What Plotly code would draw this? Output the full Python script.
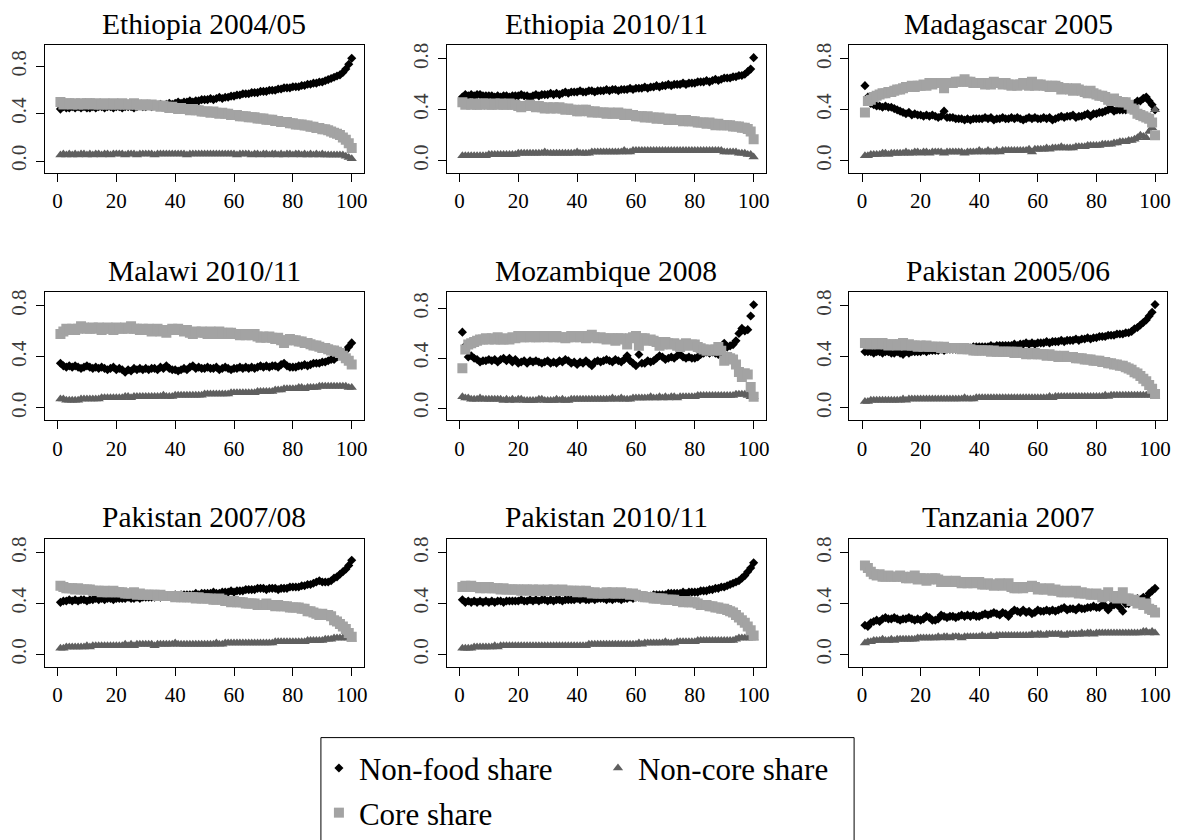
import plotly.graph_objects as go

# Expenditure percentile (x axis of every panel)
percentile = list(range(1, 101))

# Budget shares (in percent) by percentile, one list per survey and series
eth0405_nonfood = [44,46,45,45,46,45,46,45,46,45, 45,46,45,46,46,45,46,46,45,46,
                   46,45,46,46,46,45,46,47,46,46, 47,46,47,47,48,47,48,49,48,49,
                   50,49,50,50,51,50,51,51,52,52, 52,53,52,53,54,53,54,54,55,55,
                   56,56,57,57,57,58,58,58,59,59, 59,60,60,60,61,61,62,62,62,63,
                   63,63,64,64,65,65,66,66,67,67, 68,69,70,71,72,73,75,78,82,87]
eth0405_core = [50,48,49,49,48,49,48,49,48,49, 49,48,49,48,48,49,48,48,49,48,
                48,49,48,48,48,49,48,47,48,48, 47,48,47,47,46,47,46,45,46,45,
                44,45,44,44,43,44,43,43,42,42, 42,41,42,41,40,41,40,40,39,39,
                39,38,38,38,37,37,37,36,36,36, 35,35,35,34,34,33,33,33,32,32,
                31,31,31,30,30,29,29,28,28,27, 27,26,25,24,23,22,20,18,15,11]
eth0405_noncore = [5,6,5,6,5,6,5,6,6,5, 6,5,6,6,5,6,6,5,6,6,
                   6,6,5,6,6,6,5,6,6,6, 6,6,5,6,6,6,6,6,6,6,
                   6,6,6,5,6,6,6,6,6,6, 6,6,6,6,6,6,6,6,6,6,
                   5,6,6,6,6,5,6,6,5,6, 6,5,6,6,5,6,5,6,6,5,
                   6,6,5,6,5,6,5,6,5,6, 5,5,5,5,5,5,5,4,3,2]

eth1011_nonfood = [50,52,51,52,51,52,52,51,51,51, 51,50,51,50,51,51,50,51,51,51,
                   52,51,51,50,51,52,51,52,52,52, 53,52,53,52,53,54,53,54,54,54,
                   55,54,54,55,55,54,55,55,55,56, 55,56,56,55,56,56,56,57,56,57,
                   57,57,58,57,58,58,59,58,59,59, 60,59,60,60,60,61,60,61,61,61,
                   62,62,62,63,62,63,64,63,64,65, 65,65,66,66,67,67,68,70,72,81]
eth1011_core = [46,44,45,44,45,44,44,45,45,44, 44,45,44,45,44,44,45,44,44,43,
                42,43,43,44,43,42,43,42,41,42, 41,42,41,42,41,40,41,40,40,39,
                39,40,40,39,38,39,38,38,38,37, 38,37,37,38,37,36,37,36,36,35,
                35,35,34,35,34,34,33,34,33,33, 32,33,32,32,32,31,32,31,31,31,
                30,30,30,29,30,29,28,29,28,28, 28,28,27,27,27,26,26,25,23,17]
eth1011_noncore = [4,4,4,4,4,4,4,4,4,5, 5,5,5,5,5,5,5,5,5,6,
                   6,6,6,6,6,6,6,6,7,6, 6,6,6,6,6,6,6,6,6,7,
                   6,6,6,6,7,7,7,7,7,7, 7,7,7,7,7,8,7,7,8,8,
                   8,8,8,8,8,8,8,8,8,8, 8,8,8,8,8,8,8,8,8,8,
                   8,8,8,8,8,8,8,8,8,7, 7,7,7,7,6,6,6,5,5,3]

mdg2005_nonfood = [59,50,45,44,43,43,42,43,42,42, 41,40,39,38,37,38,36,37,36,36,
                   35,36,35,36,35,34,35,39,34,34, 34,33,33,33,32,33,32,33,33,33,
                   33,34,33,34,32,33,33,34,33,33, 34,33,34,33,32,33,34,33,34,33,
                   33,34,33,34,32,33,34,35,34,35, 35,36,34,35,35,36,37,35,37,37,
                   38,38,39,40,41,39,40,40,40,40, 41,44,45,47,47,49,50,47,44,40]
mdg2005_core = [38,47,48,50,51,52,53,53,54,54, 55,56,56,57,58,58,59,58,59,59,
                60,59,61,60,61,61,61,57,61,61, 61,62,62,62,64,62,62,61,61,61,
                61,60,61,60,62,61,61,60,61,60, 59,60,59,60,61,60,59,62,59,60,
                60,59,59,58,59,59,58,56,57,57, 56,55,57,56,55,54,53,55,53,52,
                51,51,50,48,47,49,47,46,46,46, 44,41,40,37,36,35,34,33,30,20]
mdg2005_noncore = [4,4,5,5,5,5,6,6,5,6, 6,6,6,6,7,6,6,7,7,6,
                   7,7,6,7,7,7,7,6,7,7, 7,7,7,7,6,7,7,7,7,8,
                   7,7,8,7,7,8,7,8,8,8, 8,8,8,8,8,8,9,7,9,9,
                   9,9,10,9,10,10,10,11,10,10, 10,10,11,11,11,11,12,12,12,12,
                   12,13,13,13,13,14,14,15,15,15, 16,16,17,18,20,19,18,23,26,40]

mwi1011_nonfood = [35,33,32,33,32,33,32,31,32,33, 32,31,32,31,32,31,30,31,32,30,
                   31,30,28,30,29,31,30,31,30,31, 30,31,31,30,32,31,33,31,30,30,
                   29,30,31,30,32,33,31,32,31,31, 32,31,31,32,30,31,32,31,30,31,
                   31,32,31,32,31,32,31,32,33,32, 33,32,33,33,32,34,35,33,32,32,
                   32,33,33,34,33,34,35,35,35,36, 36,37,38,38,40,41,43,45,48,51]
mwi1011_core = [58,60,62,61,62,61,62,64,63,62, 62,63,62,63,61,62,63,62,61,63,
                62,62,63,62,64,62,62,61,62,61, 62,60,61,62,60,61,59,61,62,61,
                62,61,60,61,59,58,60,59,60,59, 58,60,59,58,60,59,58,59,59,58,
                58,57,58,57,58,57,58,56,55,56, 55,56,55,54,55,53,51,53,54,53,
                53,52,52,51,51,50,49,49,48,47, 47,46,45,45,44,43,41,39,37,34]
mwi1011_noncore = [7,7,6,6,6,6,6,7,7,7, 7,7,7,7,8,8,8,8,8,8,
                   8,8,9,9,8,9,9,9,9,9, 9,9,9,9,9,10,9,9,9,10,
                   10,10,10,10,10,10,10,10,10,11, 11,11,11,11,11,11,11,11,12,12,
                   12,12,12,12,12,12,12,13,13,13, 13,13,13,14,14,14,15,15,15,15,
                   15,16,16,15,16,16,16,16,17,17, 17,17,17,17,17,17,17,17,16,16]

moz2008_nonfood = [61,50,41,42,40,39,37,38,38,39, 38,39,37,39,40,38,40,37,39,36,
                   37,38,36,38,37,38,37,36,37,38, 36,37,36,38,37,39,38,36,37,35,
                   37,36,38,36,34,37,38,37,38,39, 38,37,39,38,37,39,42,38,36,34,
                   43,36,36,38,37,38,40,42,41,39, 40,41,40,42,43,41,40,41,40,40,
                   41,43,44,45,44,45,44,43,45,52, 49,50,51,54,60,64,62,63,74,83]
moz2008_core = [32,47,51,52,53,54,55,55,56,55, 56,55,57,55,55,56,55,57,56,58,
                57,57,58,57,58,57,57,58,58,57, 58,57,58,57,57,56,57,58,57,58,
                57,58,56,57,59,57,56,57,56,55, 56,56,54,56,56,55,51,56,57,58,
                50,56,56,54,55,54,53,50,51,53, 52,51,52,50,49,51,52,50,51,51,
                49,48,47,46,47,46,47,49,46,38, 41,40,39,35,29,25,28,27,17,9]
moz2008_noncore = [9,8,8,7,7,7,8,7,7,7, 7,7,7,7,6,7,6,7,6,7,
                   7,6,6,6,6,6,7,7,6,6, 6,6,7,6,7,6,6,7,7,7,
                   7,7,7,7,7,7,7,7,7,7, 7,8,7,7,8,7,7,7,8,8,
                   8,8,8,8,9,8,8,9,8,9, 8,9,9,8,9,9,9,9,9,9,
                   10,10,10,10,10,10,10,10,10,10, 10,10,10,11,11,11,11,10,9,9]

pak0506_nonfood = [44,44,44,43,44,44,43,44,44,43, 43,44,43,42,44,43,44,44,44,44,
                   45,44,45,45,45,45,46,45,46,46, 46,46,46,47,46,47,47,48,48,48,
                   48,48,48,49,48,49,49,49,49,49, 49,50,49,50,50,51,50,51,50,51,
                   51,51,52,51,52,52,52,53,52,53, 53,53,54,53,54,54,55,54,55,55,
                   56,56,56,57,57,57,58,58,58,59, 59,60,62,63,65,67,69,72,75,81]
pak0506_core = [51,50,50,51,50,50,51,50,49,50, 50,49,50,51,49,50,49,49,48,49,
                48,49,48,48,48,48,47,48,47,47, 47,47,47,46,47,46,46,45,45,45,
                45,45,45,44,45,44,44,44,44,44, 44,43,44,43,43,42,43,42,43,42,
                42,42,41,42,41,41,40,40,41,40, 40,40,39,39,39,38,38,38,37,37,
                37,36,36,35,35,34,34,33,33,32, 31,30,28,27,25,23,21,18,15,11]
pak0506_noncore = [5,5,6,6,6,6,6,6,6,6, 6,6,6,7,6,7,7,7,7,7,
                   7,7,7,7,7,7,7,7,7,7, 7,7,7,7,8,7,7,7,8,8,
                   8,8,8,8,8,8,8,8,8,8, 8,8,8,8,8,8,8,8,8,8,
                   8,8,8,9,8,9,9,9,9,9, 9,9,9,9,9,9,9,9,9,9,
                   9,9,10,9,10,10,10,10,10,10, 10,10,10,10,10,10,10,10,10,9]

pak0708_nonfood = [41,42,42,43,42,43,42,43,43,42, 43,43,44,43,44,43,44,44,43,44,
                   44,44,44,45,44,44,45,44,45,45, 45,45,45,46,45,46,46,46,46,47,
                   46,47,47,47,47,47,48,47,48,48, 48,48,49,48,48,49,49,49,50,49,
                   50,50,50,51,51,51,51,52,52,52, 51,52,52,52,51,52,52,52,53,53,
                   53,53,54,54,55,55,56,57,58,57, 57,57,58,60,61,63,65,67,70,74]
pak0708_core = [54,53,52,52,52,51,52,51,51,51, 51,50,50,50,49,50,49,49,50,49,
                49,49,48,48,48,49,47,48,47,47, 47,47,47,46,47,46,46,46,46,45,
                46,45,45,45,45,45,44,45,44,44, 44,44,43,43,44,43,42,42,41,42,
                41,41,41,40,40,40,40,39,39,39, 40,39,39,38,39,38,38,38,37,37,
                37,37,36,36,34,34,33,32,31,32, 31,31,30,27,26,24,22,20,17,14]
pak0708_noncore = [5,5,6,6,6,6,6,6,6,7, 6,7,7,7,7,7,7,7,7,7,
                   7,7,8,7,8,7,8,8,8,8, 8,8,7,8,8,8,8,8,8,9,
                   8,8,8,8,8,8,8,8,8,8, 8,8,8,9,8,8,9,9,9,9,
                   9,9,9,9,9,9,9,9,9,9, 9,9,9,10,10,10,10,10,10,10,
                   10,10,10,10,11,11,11,11,11,11, 12,12,12,13,13,13,13,13,13,12]

pak1011_nonfood = [43,41,42,41,42,41,42,41,42,41, 42,41,42,42,41,42,42,42,42,42,
                   43,42,42,43,42,43,42,43,43,42, 43,42,43,43,42,43,43,43,43,44,
                   43,44,43,43,44,43,44,44,44,43, 44,43,44,44,43,44,44,45,44,45,
                   45,46,46,46,46,47,47,47,47,47, 48,48,48,48,48,49,48,49,49,49,
                   49,50,50,50,51,51,52,52,53,53, 54,55,56,57,58,60,62,65,68,72]
pak1011_core = [53,54,53,54,53,53,52,53,52,53, 52,52,52,51,52,51,51,51,51,51,
                50,51,51,50,51,50,51,50,50,51, 50,51,50,50,51,50,50,50,50,49,
                50,49,50,49,48,49,48,48,48,49, 48,49,48,48,49,48,48,47,48,47,
                46,46,45,45,45,44,44,44,44,43, 43,43,43,42,42,41,42,41,41,41,
                40,39,39,39,38,38,37,37,36,36, 35,34,33,31,29,27,25,22,19,15]
pak1011_noncore = [5,5,5,5,6,6,6,6,6,6, 6,7,6,7,7,7,7,7,7,7,
                   7,7,7,7,7,7,7,7,7,7, 7,7,7,7,7,7,7,7,7,7,
                   7,7,7,8,8,8,8,8,8,8, 8,8,8,8,8,8,8,8,8,8,
                   9,8,9,9,9,9,9,9,9,10, 9,9,9,10,10,10,10,10,10,10,
                   11,11,11,11,11,11,11,11,11,11, 11,11,11,12,13,13,13,13,13,13]

tza2007_nonfood = [23,22,25,26,27,26,28,29,28,28, 29,28,27,28,28,29,28,27,28,27,
                   28,30,29,27,27,28,31,30,29,30, 30,29,30,31,30,31,30,31,30,30,
                   31,32,31,32,33,32,31,33,32,30, 33,35,34,33,35,33,34,32,33,35,
                   34,34,35,34,35,34,35,36,37,35, 36,36,35,37,36,36,37,37,38,37,
                   37,39,38,35,38,39,40,37,34,40, 40,42,41,44,43,45,44,48,50,52]
tza2007_core = [70,68,65,63,62,63,61,61,62,61, 61,61,62,61,60,60,61,62,59,60,
                60,58,59,60,60,59,57,57,58,57, 57,58,57,56,57,56,57,56,57,57,
                55,55,56,55,54,55,56,54,55,56, 53,52,52,53,52,53,53,54,53,51,
                52,51,51,52,50,51,50,49,49,50, 49,49,50,48,49,48,48,47,47,48,
                47,45,46,49,46,45,44,46,49,44, 44,42,43,40,41,39,40,36,35,33]
tza2007_noncore = [9,10,10,11,11,11,12,11,11,12, 11,12,12,12,12,12,12,12,13,13,
                   13,13,13,13,13,14,13,14,14,13, 14,14,14,13,14,14,14,14,14,14,
                   15,14,14,15,14,15,15,15,15,15, 15,15,15,15,15,15,15,16,15,16,
                   16,15,16,16,16,16,16,16,15,16, 16,16,16,16,17,16,17,17,16,17,
                   17,17,17,17,17,17,17,17,17,17, 17,17,17,17,17,18,18,17,18,17]

panel_titles = ["Ethiopia 2004/05", "Ethiopia 2010/11", "Madagascar 2005",
                "Malawi 2010/11", "Mozambique 2008", "Pakistan 2005/06",
                "Pakistan 2007/08", "Pakistan 2010/11", "Tanzania 2007"]

x_ticks = [0, 20, 40, 60, 80, 100]
y_ticks = [0.0, 0.4, 0.8]
y_tick_labels = ["0.0", "0.4", "0.8"]

series_names = ["Non-food share", "Non-core share", "Core share"]

panels = [
    (eth0405_nonfood, eth0405_noncore, eth0405_core),
    (eth1011_nonfood, eth1011_noncore, eth1011_core),
    (mdg2005_nonfood, mdg2005_noncore, mdg2005_core),
    (mwi1011_nonfood, mwi1011_noncore, mwi1011_core),
    (moz2008_nonfood, moz2008_noncore, moz2008_core),
    (pak0506_nonfood, pak0506_noncore, pak0506_core),
    (pak0708_nonfood, pak0708_noncore, pak0708_core),
    (pak1011_nonfood, pak1011_noncore, pak1011_core),
    (tza2007_nonfood, tza2007_noncore, tza2007_core),
]

# ---- styling / layout ----
W, H = 1184, 840
SERIF = "Liberation Serif, Times New Roman, serif"

marker_styles = [
    dict(symbol="diamond", size=7, color="black"),
    dict(symbol="triangle-up", size=9, color="#5f5f5f"),
    dict(symbol="square", size=10, color="#a3a3a3"),
]
legend_ids = ["legend", "legend2", "legend3"]

col_px = [(45, 365), (448.3, 768.3), (852.3, 1171)]
row_px = [(43.3, 172.3), (291.7, 421), (540, 669)]
title_center_px = [22.5, 271, 518]
y_ranges = [[-0.104, 0.983], [-0.098, 0.909], [-0.098, 0.909],
            [-0.098, 0.909], [-0.10, 0.933], [-0.098, 0.909],
            [-0.098, 0.909], [-0.098, 0.909], [-0.098, 0.909]]
x_range = [-4.3, 104.1]

fig = go.Figure()
annotations = []
layout_axes = {}

for i, series in enumerate(panels):
    r, c = divmod(i, 3)
    n = i + 1
    xa = "x" if n == 1 else f"x{n}"
    ya = "y" if n == 1 else f"y{n}"
    for s, vals in enumerate(series):
        fig.add_trace(go.Scatter(
            x=percentile, y=[v / 100 for v in vals],
            mode="markers", name=series_names[s],
            marker=dict(**marker_styles[s], line=dict(width=0)),
            xaxis=xa, yaxis=ya,
            showlegend=(i == 0), legend=legend_ids[s],
            hoverinfo="skip",
        ))
    x0, x1 = col_px[c]
    y0, y1 = row_px[r]
    common = dict(showline=True, linecolor="black", linewidth=1, mirror=True,
                  showgrid=False, zeroline=False, ticks="outside", ticklen=8,
                  tickwidth=1, tickcolor="black", fixedrange=True)
    layout_axes["xaxis" if n == 1 else f"xaxis{n}"] = dict(
        domain=[x0 / W, x1 / W], range=x_range, tickvals=x_ticks,
        tickfont=dict(family=SERIF, size=21, color="black"),
        ticklabelstandoff=1, anchor=ya, **common)
    layout_axes["yaxis" if n == 1 else f"yaxis{n}"] = dict(
        domain=[1 - y1 / H, 1 - y0 / H], range=y_ranges[i], tickvals=y_ticks,
        ticktext=y_tick_labels, tickangle=-90,
        tickfont=dict(family=SERIF, size=21, color="#3a3a3a"),
        ticklabelstandoff=1, anchor=xa, **common)
    annotations.append(dict(
        text=panel_titles[i], xref="paper", yref="paper",
        x=(x0 + x1) / 2 / W, y=1 - title_center_px[r] / H,
        xanchor="center", yanchor="middle", showarrow=False,
        font=dict(family=SERIF, size=29.5, color="black")))

legend_common = dict(orientation="h", xanchor="left", yanchor="middle",
                     bgcolor="rgba(0,0,0,0)", borderwidth=0,
                     font=dict(family=SERIF, size=31, color="black"),
                     itemclick=False, itemdoubleclick=False)

fig.update_layout(
    width=W, height=H,
    margin=dict(l=0, r=0, t=0, b=0),
    paper_bgcolor="white", plot_bgcolor="white",
    annotations=annotations,
    legend=dict(x=320 / W, y=1 - 771 / H, **legend_common),
    legend2=dict(x=600 / W, y=1 - 771 / H, **legend_common),
    legend3=dict(x=320 / W, y=1 - 816 / H, **legend_common),
    shapes=[dict(type="rect", xref="paper", yref="paper",
                 x0=322 / W, x1=857 / W, y0=-0.1, y1=1 - 740 / H,
                 line=dict(color="black", width=1), fillcolor="rgba(0,0,0,0)")],
    **layout_axes,
)

fig.write_html("out.html")
